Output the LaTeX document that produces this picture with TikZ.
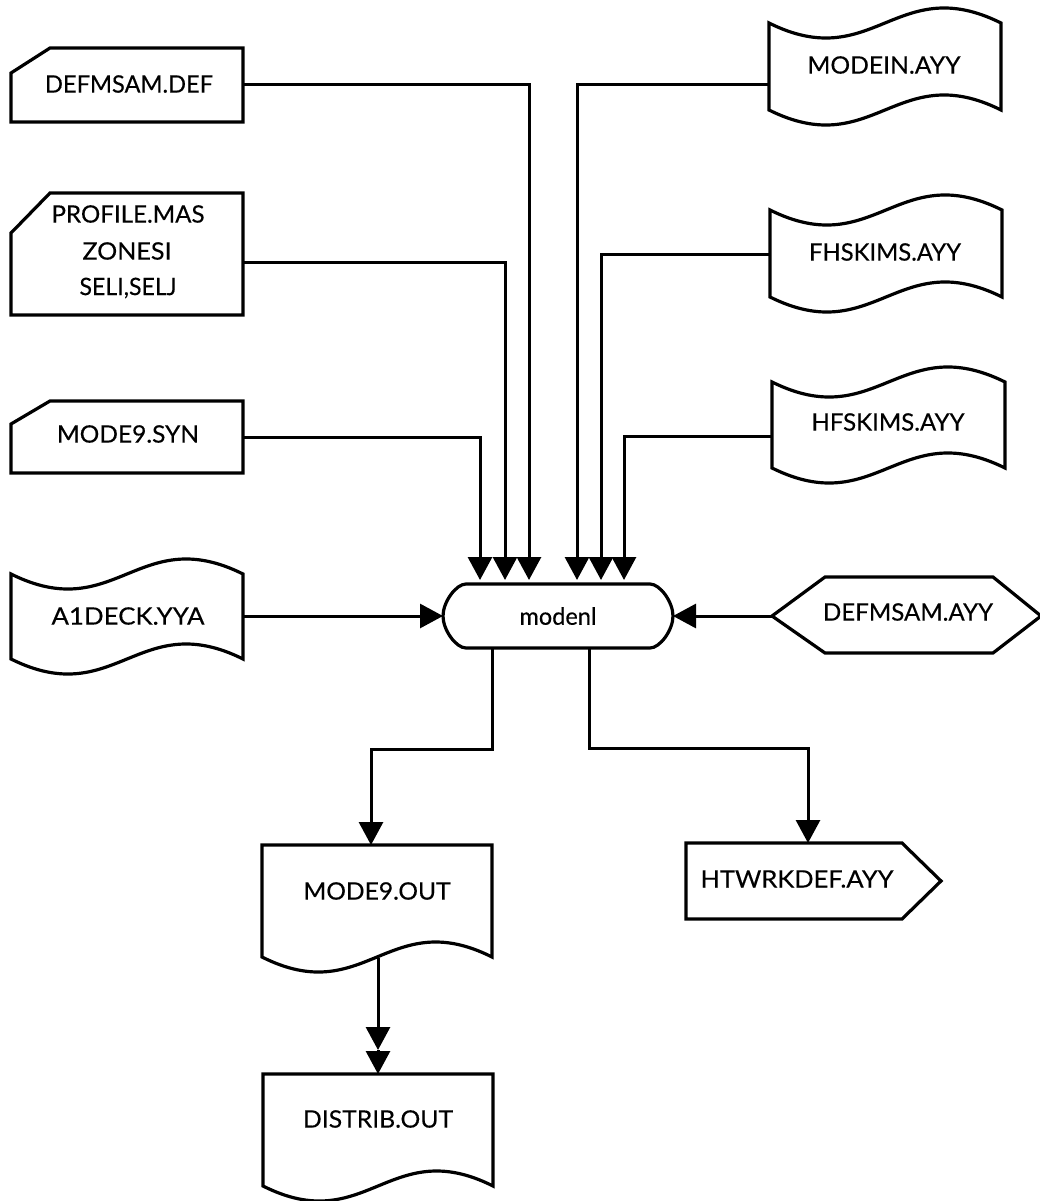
\documentclass[tikz,border=0pt]{standalone}
\usepackage{graphicx}
\usepackage{fontspec}
\setmainfont[FakeBold=0.3]{Lato}
\usetikzlibrary{arrows.meta}
\tikzset{
  x=1pt,y=-1pt,
  hull/.style={inner sep=0pt,outer sep=0pt,minimum width=#1},
  shp/.style={line width=3.2pt,line join=miter},
  lbl/.style={inner sep=0pt,font=\fontsize{24}{26}\selectfont},
  conn/.style={line width=3pt,-{Triangle[length=23pt,width=24pt]}},
  topconn/.style={conn,shorten >=4pt},
}
\newcommand\fitw[2]{\resizebox{#1pt}{\height}{#2}}
% name, left, top-left y, width, height, text, text x, text y
\newcommand\wavebox[8]{%
  \node[hull=#4pt,minimum height=#5pt] (#1) at ({#2+#4/2},{#3+#5/2}) {};
  \draw[shp] (#2,#3) .. controls ({#2+.45*#4},{#3+52}) and ({#2+.55*#4},{#3-52}) .. ({#2+#4},#3)
    -- ({#2+#4},{#3+#5}) .. controls ({#2+.55*#4},{#3+#5-52}) and ({#2+.45*#4},{#3+#5+52}) .. (#2,{#3+#5}) -- cycle;
  \node[lbl] (#1-t) at (#7,#8) {#6};}
% name, left, top y, width, height, text, text x, text y : flat top, wavy bottom
\newcommand\docbox[8]{%
  \node[hull=#4pt,minimum height=#5pt] (#1) at ({#2+#4/2},{#3+#5/2}) {};
  \draw[shp] (#2,#3) -- ({#2+#4},#3)
    -- ({#2+#4},{#3+#5}) .. controls ({#2+.55*#4},{#3+#5-52}) and ({#2+.45*#4},{#3+#5+52}) .. (#2,{#3+#5}) -- cycle;
  \node[lbl] (#1-t) at (#7,#8) {#6};}
% name, left, top, right, bottom, cut x, cut y
\newcommand\cardbox[7]{%
  \node[hull={(#4-#2)*1pt},minimum height={(#5-#3)*1pt}] (#1) at ({(#2+#4)/2},{(#3+#5)/2}) {};
  \draw[shp] (#2,#7) -- (#6,#3) -- (#4,#3) -- (#4,#5) -- (#2,#5) -- cycle;}
\begin{document}
\begin{tikzpicture}
\useasboundingbox (0,0) rectangle (1040,1201);

% process
\node[hull=230pt,minimum height=64pt] (proc) at (558,616) {};
\draw[shp] (466,584) -- (650,584) .. controls (660,584) and (673,602) .. (673,616)
  .. controls (673,630) and (660,648) .. (650,648) -- (466,648)
  .. controls (456,648) and (443,630) .. (443,616)
  .. controls (443,602) and (456,584) .. (466,584) -- cycle;
\node[lbl] (proc-t) at (558,616) {\fitw{77}{modenl}};

% inputs, left
\cardbox{defdef}{11}{48}{243}{122}{50}{73}
\node[lbl] (defdef-t) at (129,84) {\fitw{168}{DEFMSAM.DEF}};
\cardbox{profile}{11}{193}{243}{315}{50}{233}
\node[lbl] (profile-a) at (128,214) {\fitw{153}{PROFILE.MAS}};
\node[lbl] (profile-b) at (127,251) {\fitw{89}{ZONESI}};
\node[lbl] (profile-c) at (128,288) {\fitw{97}{SELI,SELJ}};
\cardbox{syn}{11}{401}{243}{473}{50}{424}
\node[lbl] (syn-t) at (128,434) {\fitw{142}{MODE9.SYN}};
\wavebox{deck}{11}{574}{232}{85}{\fitw{153}{A1DECK.YYA}}{128}{616}

% inputs, right
\wavebox{modein}{769}{23}{232}{87}{\fitw{153}{MODEIN.AYY}}{884}{65}
\wavebox{fh}{770}{210}{232}{87}{\fitw{152}{FHSKIMS.AYY}}{885}{252}
\wavebox{hf}{772}{382}{233}{86}{\fitw{153}{HFSKIMS.AYY}}{888}{422}

\node[hull=269pt,minimum height=76pt] (hex) at (906.5,616) {};
\draw[shp] (772,616) -- (825,577) -- (993,577) -- (1041,616) -- (993,653) -- (825,653) -- cycle;
\node[lbl] (hex-t) at (908,612) {\fitw{170}{DEFMSAM.AYY}};

% outputs
\docbox{out}{262}{845}{230}{112}{\fitw{147}{MODE9.OUT}}{377}{891}
\docbox{dist}{263}{1074}{230}{112}{\fitw{150}{DISTRIB.OUT}}{378}{1119}
\node[hull=255pt,minimum height=76pt] (net) at (813.5,881) {};
\draw[shp] (686,843) -- (902,843) -- (941,881) -- (902,919) -- (686,919) -- cycle;
\node[lbl] (net-t) at (797,879) {\fitw{193}{HTWRKDEF.AYY}};

% connectors
\draw[topconn] (defdef.east) -| ([xshift=-29pt]proc.north);
\draw[topconn] ([yshift=-8pt]profile.east) -| ([xshift=-53pt]proc.north);
\draw[topconn] (syn.east) -| ([xshift=-78pt]proc.north);
\draw[topconn] ([yshift=-18.5pt]modein.west) -| ([xshift=19pt]proc.north);
\draw[topconn] ([yshift=-0.5pt]fh.west) -| ([xshift=43pt]proc.north);
\draw[topconn] ([yshift=-11pt]hf.west) -| ([xshift=66pt]proc.north);
\draw[conn] (deck.east |- proc.west) -- (proc.west);
\draw[conn] (hex.west) -- (proc.east);
\coordinate (leftbend) at (492,749);
\coordinate (rightbend) at (589,748);
\draw[conn] ([xshift=-66pt]proc.south) -- (leftbend) -| ([xshift=-6pt]out.north);
\draw[conn] ([xshift=31pt]proc.south) -- (rightbend) -| (net.north -| 808,0);
\coordinate (twotip) at (378,1050);
\coordinate (outwave) at (378,958);
\draw[conn] (outwave) -- (twotip);
\draw[conn] (twotip) -- (dist.north);
\end{tikzpicture}
\end{document}
